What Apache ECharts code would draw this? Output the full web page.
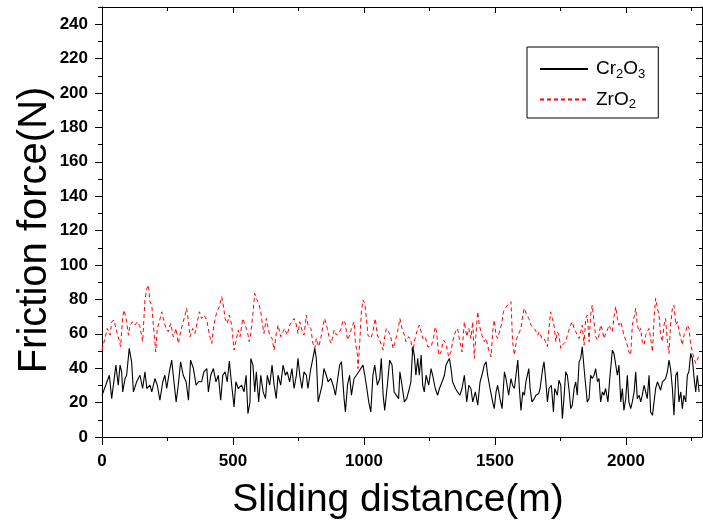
<!DOCTYPE html>
<html><head><meta charset="utf-8">
<script src="https://cdn.jsdelivr.net/npm/echarts@6/dist/echarts.min.js"></script>
<style>html,body{margin:0;padding:0;background:#fff}#c{width:703px;height:529px}</style>
</head><body><div id="c"></div>
<script>
// ---- Data ----
const seriesNames = ['Cr2O3', 'ZrO2'];

const crDistance = [
0,5,28,37,53,62,69,75,79,88,94,104,113,120,132,145,155,164,171,183,190,202,211,221,232,240,247,257,266,272,283,291,300,310,321,330,338,349,359,368,380,389,400,406,415,425,435,444,453,461,470,478,486,495,504,511,520,533,542,550,557,565,
568,576,583,589,598,606,615,624,631,640,649,657,665,672,682,691,700,707,716,725,733,742,748,755,763,771,780,786,797,805,812,818,825,831,840,847,856,863,873,882,891,898,907,914,924,929,937,945,952,962,971,980,987,996,1003,1009,1018,1026,1034,1041,1051,1060,1066,1073,1079,1089,1098,1107,1115,
1122,1132,1137,1145,1154,1163,1173,1179,1186,1192,1198,1205,1211,1218,1224,1230,1237,1247,1256,1262,1272,1281,1288,1298,1307,1313,1319,1326,1332,1338,1349,1357,1366,1374,1383,1392,1400,1408,1415,1425,1434,1443,1450,1459,1466,1472,1481,1491,1497,1504,1510,1519,1527,1536,1542,1552,1561,1567,1574,1580,1587,1593,1599,1606,1612,1618,1629,1634,1641,1650,1656,1667,1672,1682,
1687,1693,1700,1706,1715,1723,1728,1738,1744,1751,1757,1763,1770,1776,1782,1789,1795,1802,1808,1814,1821,1827,1833,1840,1846,1852,1859,1865,1871,1878,1884,1891,1897,1903,1910,1916,1922,1931,1939,1948,1954,1961,1967,1973,1980,1986,1992,1999,2005,2011,2018,2024,2031,2037,2043,2050,2056,2062,2069,2075,2081,2088,2094,2101,2107,2113,2120,2126,2132,2139,2145,2151,2158,2164,2170,2177,2183,2190,2196,2202,2209,2215,2221,2228,2234,2240,2247,2253,2260,2266,2272,2279
];
const crForce = [
24,26.2,35.9,22.3,41.8,30.1,41.8,37.9,26.2,34.0,35.9,51.5,43.7,26.2,32.1,35.9,28.2,37.9,28.2,30.1,26.2,34.0,30.1,21.4,32.1,35.9,28.2,37.9,44.7,35.9,20.4,30.1,43.7,35.9,32.1,21.4,44.7,39.8,30.1,32.1,32.1,37.9,39.8,26.2,35.9,39.8,32.1,35.9,21.4,35.9,37.9,32.1,44.1,30.1,17.5,32.1,28.2,30.1,26.2,35.9,13.6,20.4,
45.7,41.8,26.2,37.9,20.4,35.9,26.2,22.3,35.9,30.1,41.8,30.1,22.3,35.9,30.1,41.8,35.9,37.9,32.1,39.8,28.2,35.9,45.7,35.9,28.2,37.9,35.9,28.2,39.8,45.7,51.5,45.7,20.4,20.4,30.1,39.8,35.9,32.1,34.0,30.1,24.3,32.1,41.8,43.7,22.3,14.6,30.1,35.9,24.3,34.0,35.9,37.9,37.9,41.8,35.9,30.1,20.4,14.6,35.9,41.8,30.1,34.0,45.7,24.3,15.5,30.1,44.7,41.8,26.2,
26.2,22.3,37.9,30.1,20.4,22.3,28.2,32.1,52.5,47.6,35.9,45.7,35.9,47.6,30.1,26.2,35.9,30.1,39.8,35.9,28.2,24.3,28.2,32.1,35.9,41.8,43.7,45.7,39.8,32.1,28.2,26.2,24.3,28.2,35.9,20.4,30.1,28.2,20.4,26.2,18.5,32.1,35.9,41.8,43.7,35.9,28.2,20.4,16.5,26.2,30.1,22.3,16.5,37.9,34.0,24.3,34.0,30.1,28.2,35.9,44.7,28.2,15.5,26.2,24.3,32.1,39.8,28.2,20.4,22.3,24.3,25.3,28.2,39.8,
43.7,34.0,20.4,28.2,30.1,14.6,28.2,24.3,33.0,30.1,10.7,22.3,37.9,35.9,28.2,16.5,18.5,28.2,32.1,24.3,43.7,45.7,52.5,39.8,30.1,20.4,22.3,35.9,34.0,35.9,39.8,32.1,34.0,20.4,26.2,24.3,28.2,20.4,35.9,50.5,48.6,41.8,35.9,41.8,20.4,28.2,15.5,22.3,35.9,20.4,16.5,20.4,26.2,37.9,22.3,24.3,20.4,24.3,30.1,26.2,22.3,35.9,14.6,12.6,20.4,28.2,32.1,32.1,27.2,32.1,32.1,34.0,37.9,44.7,39.8,28.2,12.6,35.9,37.9,20.4,26.2,16.5,24.3,20.4,35.9,37.9,48.6,45.7,34.0,26.2,35.9,26.2
];

const zrDistance = [
0,11,20,31,37,46,53,62,71,79,84,92,101,107,117,126,135,145,155,164,171,177,183,190,196,205,211,219,228,234,244,253,262,272,283,291,300,310,317,323,330,336,346,355,364,372,380,389,400,410,419,427,438,448,457,463,470,478,486,495,504,511,520,527,537,546,555,562,
568,576,583,589,598,606,611,618,627,634,640,649,657,665,672,682,691,697,707,716,725,733,742,748,755,763,771,780,786,797,805,812,818,827,835,844,850,860,869,875,886,895,901,911,920,929,937,945,952,962,967,975,977,984,990,996,1003,1009,1015,1026,1034,1043,1051,1060,1066,1073,1079,1085,1094,1102,1111,1117,
1122,1128,1137,1145,1154,1160,1170,1179,1186,1192,1198,1205,1211,1218,1224,1234,1243,1249,1256,1265,1272,1277,1285,1294,1303,1313,1323,1332,1338,1349,1357,1366,1374,1383,1392,1400,1408,1415,1421,1427,1434,1440,1450,1459,1466,1476,1485,1491,1497,1504,1510,1519,1527,1532,1539,1548,1555,1561,1567,1574,1583,1590,1599,1606,1612,1621,1629,1637,1644,1654,1663,1669,1679,
1687,1693,1700,1706,1712,1719,1725,1732,1738,1744,1751,1757,1763,1770,1776,1782,1789,1795,1802,1808,1814,1821,1827,1833,1840,1846,1852,1859,1865,1871,1878,1884,1891,1897,1903,1910,1916,1922,1929,1935,1941,1948,1954,1961,1967,1973,1980,1986,1992,1999,2005,2011,2018,2024,2031,2037,2043,2050,2056,2062,2069,2075,2081,2088,2094,2101,2107,2113,2120,2126,2132,2139,2145,2151,2158,2164,2170,2177,2183,2190,2196,2202,2209,2215,2221,2228,2234,2240,2247,2253,2260,2266,2272,2279
];
const zrForce = [
50.5,57.3,63.1,59.2,67.0,68.0,63.1,58.3,52.5,69.9,73.8,68.9,59.2,65.1,67.0,65.1,67.0,64.1,55.4,79.6,86.4,88.4,78.7,76.7,65.1,49.5,63.1,67.0,72.8,68.9,63.1,61.2,66.0,58.3,63.1,54.4,61.2,67.0,70.9,74.8,67.0,58.3,63.1,60.2,67.0,72.8,68.9,70.9,68.0,59.2,54.4,65.1,72.8,75.8,81.6,76.7,68.9,66.0,70.9,65.1,50.5,55.4,62.2,58.3,68.9,65.1,61.2,55.4,
60.2,71.9,83.5,80.6,77.7,72.8,67.0,60.2,68.9,63.1,59.2,57.3,50.5,60.2,65.1,58.3,61.2,63.1,59.2,65.1,67.0,68.9,65.1,60.2,67.0,62.2,59.2,70.9,65.1,63.1,54.4,51.5,57.3,52.5,57.3,65.1,68.9,63.1,56.3,54.4,62.2,59.2,58.3,62.2,68.0,66.0,56.3,59.2,63.1,67.0,55.4,47.6,39.8,55.4,72.8,79.6,77.7,68.9,59.2,57.3,61.2,68.9,59.2,56.3,53.4,50.5,58.3,63.1,61.2,58.3,51.5,54.4,
57.3,61.2,68.9,63.1,59.2,55.4,58.3,56.3,47.6,55.4,59.2,63.1,65.1,61.2,57.3,58.3,52.5,51.5,52.5,57.3,64.1,61.2,47.6,49.5,56.3,54.4,46.6,49.5,55.4,61.2,63.1,55.4,49.5,67.0,58.3,63.1,57.3,67.0,45.7,59.2,72.8,65.1,59.2,55.4,57.3,50.5,46.6,61.2,68.0,59.2,57.3,62.2,67.0,72.8,74.8,76.7,77.7,78.7,55.4,47.6,57.3,58.3,63.1,70.9,74.8,70.9,68.9,65.1,66.0,62.2,59.2,61.2,57.3,
57.3,55.4,52.5,63.1,72.8,68.9,65.1,55.4,61.2,59.2,51.5,53.4,54.4,55.4,59.2,62.2,65.1,67.0,63.1,61.2,59.2,57.3,61.2,65.1,53.4,68.9,70.9,55.4,70.9,76.7,67.0,58.3,56.3,59.2,65.1,62.2,57.3,60.2,62.2,65.1,63.1,61.2,69.9,75.8,68.9,65.1,67.0,63.1,59.2,56.3,53.4,49.5,47.6,65.1,69.9,74.8,65.1,61.2,63.1,55.4,53.4,59.2,61.2,63.1,57.3,49.5,68.9,80.6,74.8,70.9,59.2,55.4,65.1,68.9,55.4,48.6,65.1,74.8,76.7,65.1,67.0,62.2,57.3,53.4,59.2,61.2,65.1,63.1,53.4,49.5,45.7,42.7,41.8,47.6
];

const xMajorTicks = [0, 500, 1000, 1500, 2000];
const xMinorTicks = [250, 750, 1250, 1750, 2250];
const yMajorTicks = [0, 20, 40, 60, 80, 100, 120, 140, 160, 180, 200, 220, 240];
const yMinorTicks = [10, 30, 50, 70, 90, 110, 130, 150, 170, 190, 210, 230, 250];

// ---- Chart ----
const FONT = '"Liberation Sans", Arial, Helvetica, sans-serif';
const X_MAX = 2290, Y_MAX = 250;
const BLACK = '#000';

function zip(d, v) {
  const n = Math.min(d.length, v.length);
  const out = [];
  for (let i = 0; i < n; i++) out.push([d[i], v[i]]);
  return out;
}

function frameAxis(kind, gridIndex, position, ticks, len, inside, showLine, extra) {
  const ax = {
    type: 'value', gridIndex: gridIndex, position: position,
    min: 0, max: kind === 'x' ? X_MAX : Y_MAX,
    axisLine: { show: showLine, onZero: false, lineStyle: { color: BLACK, width: 1 } },
    axisTick: { show: true, inside: inside, length: len, customValues: ticks, lineStyle: { color: BLACK, width: 1 } },
    axisLabel: { show: false },
    splitLine: { show: false },
    minorTick: { show: false }
  };
  return Object.assign(ax, extra || {});
}

const plain = function (v) { return String(v); };

const chart = echarts.init(document.getElementById('c'), null, { renderer: 'canvas' });
const gridRect = { left: 102, right: 1, top: 7, bottom: 92, containLabel: false, outerBoundsMode: 'none' };

const option = {
  animation: false,
  backgroundColor: '#fff',
  grid: [Object.assign({}, gridRect), Object.assign({}, gridRect)],
  xAxis: [
    frameAxis('x', 0, 'bottom', xMajorTicks, 8, false, true, {
      axisLabel: { show: true, customValues: xMajorTicks, formatter: plain, margin: 16, color: BLACK, fontSize: 17, fontWeight: 'bold', fontFamily: FONT },
      name: 'Sliding distance(m)', nameLocation: 'middle', nameGap: 44, nameMoveOverlap: false,
      nameTextStyle: { fontSize: 39, fontFamily: FONT, color: BLACK, padding: [0, 8, 0, 0] }
    }),
    frameAxis('x', 0, 'top', xMajorTicks, 6, true, true),
    frameAxis('x', 1, 'bottom', xMinorTicks, 4, false, false),
    frameAxis('x', 1, 'top', xMinorTicks, 4, true, false)
  ],
  yAxis: [
    frameAxis('y', 0, 'left', yMajorTicks, 7, false, true, {
      axisLabel: { show: true, customValues: yMajorTicks, formatter: plain, margin: 14, color: BLACK, fontSize: 17, fontWeight: 'bold', fontFamily: FONT },
      name: 'Friction force(N)', nameLocation: 'middle', nameGap: 47, nameMoveOverlap: false,
      nameTextStyle: { fontSize: 40, fontFamily: FONT, color: BLACK, padding: [0, 16, 0, 0] }
    }),
    frameAxis('y', 0, 'right', yMajorTicks, 6, true, true),
    frameAxis('y', 1, 'left', yMinorTicks, 4, false, false),
    frameAxis('y', 1, 'right', yMinorTicks, 3, true, false)
  ],
  legend: {
    data: seriesNames,
    orient: 'vertical',
    left: 527, top: 47,
    padding: [12, 13, 7, 12],
    borderColor: BLACK, borderWidth: 1,
    itemWidth: 48, itemHeight: 14, itemGap: 9,
    itemStyle: { opacity: 0 },
    formatter: function (name) {
      return name === 'Cr2O3' ? '{n|Cr}{s|2}{n|O}{s|3}' : '{n|ZrO}{s|2}';
    },
    textStyle: {
      color: BLACK, fontFamily: FONT, fontSize: 19, lineHeight: 20, padding: [0, 0, 0, 3],
      rich: {
        n: { fontSize: 19, fontFamily: FONT, color: BLACK, lineHeight: 20 },
        s: { fontSize: 13, fontFamily: FONT, color: BLACK, padding: [10, 0, 0, 0] }
      }
    }
  },
  series: [
    {
      name: seriesNames[0], type: 'line', xAxisIndex: 0, yAxisIndex: 0,
      data: zip(crDistance, crForce), symbol: 'none', smooth: false,
      lineStyle: { color: BLACK, width: 1.1 }, itemStyle: { color: BLACK }, z: 3
    },
    {
      name: seriesNames[1], type: 'line', xAxisIndex: 0, yAxisIndex: 0,
      data: zip(zrDistance, zrForce), symbol: 'none', smooth: false,
      lineStyle: { color: '#ff0000', width: 1, type: [4, 3] }, itemStyle: { color: '#ff0000' }, z: 2
    }
  ]
};
chart.setOption(option);
</script>
</body></html>
